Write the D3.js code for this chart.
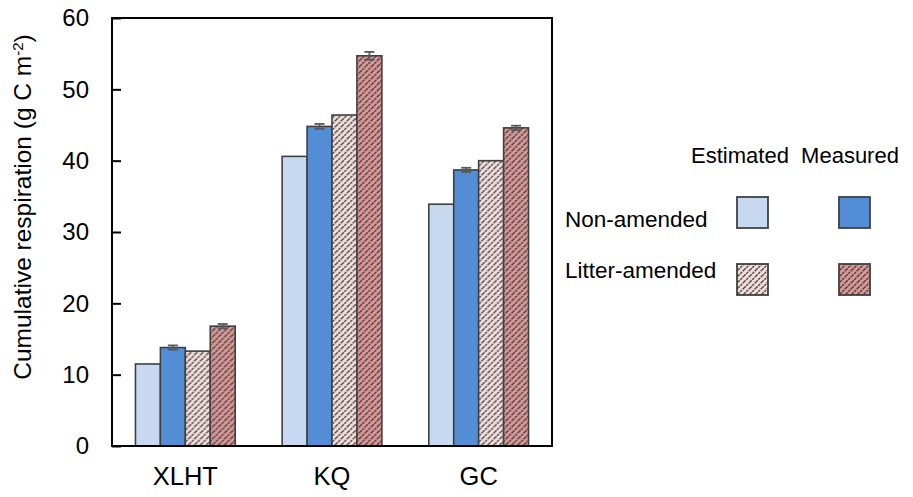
<!DOCTYPE html>
<html>
<head>
<meta charset="utf-8">
<script src="https://cdn.jsdelivr.net/npm/d3@7"></script>
<style>
  body { margin: 0; background: #fff; }
  text { font-family: "Liberation Sans", Arial, sans-serif; fill: #000; }
</style>
</head>
<body>
<script>
// data
var sites = ["XLHT", "KQ", "GC"];
var series = ["estNon", "measNon", "estLit", "measLit"];
var estNon = [11.5, 40.6, 33.9];
var measNon = [13.8, 44.8, 38.7];
var estLit = [13.3, 46.4, 40.0];
var measLit = [16.8, 54.7, 44.6];
var measNonErr = [0.3, 0.35, 0.3];
var measLitErr = [0.3, 0.55, 0.3];
var yTicks = [0, 10, 20, 30, 40, 50, 60];

var values = { estNon: estNon, measNon: measNon, estLit: estLit, measLit: measLit };
var errors = { measNon: measNonErr, measLit: measLitErr };

var width = 913, height = 497;
var pLeft = 112, pRight = 552, pTop = 18, pBottom = 446;

var svg = d3.select("body").append("svg")
    .attr("width", width)
    .attr("height", height);

// hatch patterns for litter-amended
var defs = svg.append("defs");
function hatch(id, bg) {
  var p = defs.append("pattern")
      .attr("id", id)
      .attr("patternUnits", "userSpaceOnUse")
      .attr("width", 6)
      .attr("height", 6);
  p.append("rect").attr("width", 6).attr("height", 6).attr("fill", bg);
  p.append("path")
      .attr("d", "M-1.5,1.5 l3,-3 M0,6 l6,-6 M4.5,7.5 l3,-3")
      .attr("stroke", "#333")
      .attr("stroke-width", 1.5)
      .attr("stroke-dasharray", "2.4,0.9")
      .attr("opacity", 0.85);
}
hatch("hatchLight", "#f2dcdb");
hatch("hatchDark", "#d99694");

var fills = {
  estNon: "#c6d9f1",
  measNon: "#538dd5",
  estLit: "url(#hatchLight)",
  measLit: "url(#hatchDark)"
};

var x0 = d3.scaleBand().domain(sites).range([pLeft, pRight]).paddingInner(0.32).paddingOuter(0.16);
var x1 = d3.scaleBand().domain(series).range([0, x0.bandwidth()]);
var y = d3.scaleLinear().domain([0, 60]).range([pBottom, pTop]);

// bars
var groups = svg.selectAll("g.site")
    .data(sites)
  .enter().append("g")
    .attr("class", "site")
    .attr("transform", function (d) { return "translate(" + x0(d) + ",0)"; });

groups.selectAll("rect")
    .data(function (d, i) {
      return series.map(function (s) { return { s: s, v: values[s][i] }; });
    })
  .enter().append("rect")
    .attr("x", function (d) { return x1(d.s); })
    .attr("y", function (d) { return y(d.v); })
    .attr("width", x1.bandwidth())
    .attr("height", function (d) { return y(0) - y(d.v); })
    .attr("fill", function (d) { return fills[d.s]; })
    .attr("stroke", "#404040")
    .attr("stroke-width", 1.6);

// error bars
var eb = groups.selectAll("g.err")
    .data(function (d, i) {
      return series.filter(function (s) { return errors[s]; })
        .map(function (s) { return { s: s, v: values[s][i], e: errors[s][i] }; });
    })
  .enter().append("g")
    .attr("class", "err")
    .attr("stroke", "#595959")
    .attr("stroke-width", 1.8);
eb.append("line")
    .attr("x1", function (d) { return x1(d.s) + x1.bandwidth() / 2; })
    .attr("x2", function (d) { return x1(d.s) + x1.bandwidth() / 2; })
    .attr("y1", function (d) { return y(d.v - d.e); })
    .attr("y2", function (d) { return y(d.v + d.e); });
eb.selectAll("line.cap")
    .data(function (d) { return [d.v - d.e, d.v + d.e].map(function (v) { return { s: d.s, v: v }; }); })
  .enter().append("line")
    .attr("class", "cap")
    .attr("x1", function (d) { return x1(d.s) + x1.bandwidth() / 2 - 5; })
    .attr("x2", function (d) { return x1(d.s) + x1.bandwidth() / 2 + 5; })
    .attr("y1", function (d) { return y(d.v); })
    .attr("y2", function (d) { return y(d.v); });

// frame
svg.append("rect")
    .attr("x", pLeft).attr("y", pTop)
    .attr("width", pRight - pLeft).attr("height", pBottom - pTop)
    .attr("fill", "none")
    .attr("stroke", "#000")
    .attr("stroke-width", 2);

// y axis, ticks inside
var yAxis = svg.append("g")
    .attr("transform", "translate(" + pLeft + ",0)")
    .call(d3.axisLeft(y).tickValues(yTicks).tickSizeInner(-9).tickSizeOuter(0).tickPadding(23));
yAxis.select(".domain").remove();
yAxis.selectAll(".tick line").attr("stroke", "#000").attr("stroke-width", 2);
yAxis.selectAll(".tick text")
    .style("font-family", "'Liberation Sans', Arial, sans-serif")
    .style("font-size", "24px")
    .attr("fill", "#000");

// x axis labels
var xAxis = svg.append("g")
    .attr("transform", "translate(0," + pBottom + ")")
    .call(d3.axisBottom(x0).tickSize(0).tickPadding(21));
xAxis.select(".domain").remove();
xAxis.selectAll(".tick text")
    .style("font-family", "'Liberation Sans', Arial, sans-serif")
    .style("font-size", "25.5px")
    .attr("fill", "#000");

// y title
var yt = svg.append("text")
    .attr("transform", "translate(31,207) rotate(-90)")
    .attr("text-anchor", "middle")
    .style("font-size", "24.5px");
yt.append("tspan").text("Cumulative respiration (g C m");
yt.append("tspan").attr("baseline-shift", "super").style("font-size", "15px").text("-2");
yt.append("tspan").text(")");

// legend
var legCols = [{ label: "Estimated", x: 753, tx: 740 }, { label: "Measured", x: 855, tx: 850 }];
var legRows = [{ label: "Non-amended", y: 212, ty: 227 }, { label: "Litter-amended", y: 279, ty: 278 }];
var legKeys = [["estNon", "measNon"], ["estLit", "measLit"]];

svg.selectAll("text.col")
    .data(legCols)
  .enter().append("text")
    .attr("class", "col")
    .attr("x", function (d) { return d.tx; })
    .attr("y", 163)
    .attr("text-anchor", "middle")
    .style("font-size", "22px")
    .text(function (d) { return d.label; });
svg.selectAll("text.row")
    .data(legRows)
  .enter().append("text")
    .attr("class", "row")
    .attr("x", 565)
    .attr("y", function (d) { return d.ty; })
    .style("font-size", "22.5px")
    .text(function (d) { return d.label; });
legRows.forEach(function (r, ri) {
  legCols.forEach(function (c, ci) {
    svg.append("rect")
        .attr("x", c.x - 16).attr("y", r.y - 15)
        .attr("width", 31).attr("height", 31)
        .attr("fill", fills[legKeys[ri][ci]])
        .attr("stroke", "#404040")
        .attr("stroke-width", 1.8);
  });
});
</script>
</body>
</html>
